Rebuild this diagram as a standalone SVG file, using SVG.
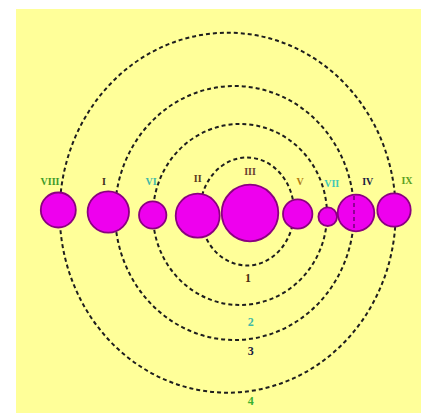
<svg xmlns="http://www.w3.org/2000/svg" width="421" height="413" viewBox="0 0 421 413">
<style>
.orbit{fill:none;stroke:#1e1e1e;stroke-width:2;stroke-dasharray:4 3}
.planet{fill:#ee00ee;stroke:#8a0080;stroke-width:1.8}
.lbl{font-family:"Liberation Serif",serif;font-weight:bold;font-size:10px;text-anchor:middle}
.num{font-family:"Liberation Serif",serif;font-weight:bold;font-size:12px;text-anchor:middle}
</style>
<rect x="0" y="0" width="421" height="413" fill="#ffffff"/>
<rect x="16" y="9" width="405" height="404" fill="#ffff99"/>
<g id="orbits">
<ellipse class="orbit" cx="247" cy="211.5" rx="47" ry="54"/>
<ellipse class="orbit" cx="240" cy="214.5" rx="87" ry="90.5"/>
<ellipse class="orbit" cx="234.5" cy="213" rx="119.5" ry="127"/>
<ellipse class="orbit" cx="227.7" cy="212.7" rx="168" ry="180"/>
</g>
<g id="planet-VIII"><circle class="planet" cx="58.3" cy="210" r="17.5"/><text class="lbl" x="50" y="185" fill="#3d9b2a">VIII</text></g>
<g id="planet-I"><circle class="planet" cx="108.3" cy="212" r="20.7"/><text class="lbl" x="104" y="185" fill="#3a2a20">I</text></g>
<g id="planet-VI"><circle class="planet" cx="152.7" cy="215" r="13.7"/><text class="lbl" x="151" y="185" fill="#3fb8a8">VI</text></g>
<g id="planet-II"><circle class="planet" cx="197.7" cy="215.7" r="22"/><text class="lbl" x="197.7" y="182" fill="#5a3a20">II</text></g>
<g id="planet-III"><circle class="planet" cx="250" cy="213" r="28.3"/><text class="lbl" x="250" y="175" fill="#6a4030">III</text></g>
<g id="planet-V"><circle class="planet" cx="297.7" cy="214" r="14.7"/><text class="lbl" x="300" y="185" fill="#b07a10">V</text></g>
<g id="planet-VII"><circle class="planet" cx="327.7" cy="216.7" r="9.3"/><text class="lbl" x="331.7" y="187" fill="#40c8b8">VII</text></g>
<g id="planet-IV"><circle class="planet" cx="356" cy="213" r="18.3"/><line x1="354" y1="196" x2="354" y2="231" stroke="#7a0080" stroke-width="1.6" stroke-dasharray="4 3"/><text class="lbl" x="367.7" y="185" fill="#1a1a40">IV</text></g>
<g id="planet-IX"><circle class="planet" cx="394" cy="210" r="16.7"/><text class="lbl" x="407" y="184" fill="#5aa020">IX</text></g>
<g id="orbit-labels">
<text class="num" x="248" y="282" fill="#4a2a10">1</text>
<text class="num" x="250.7" y="326" fill="#40b8a8">2</text>
<text class="num" x="250.7" y="355" fill="#1a1a40">3</text>
<text class="num" x="250.7" y="405" fill="#3ab030">4</text>
</g>
</svg>
